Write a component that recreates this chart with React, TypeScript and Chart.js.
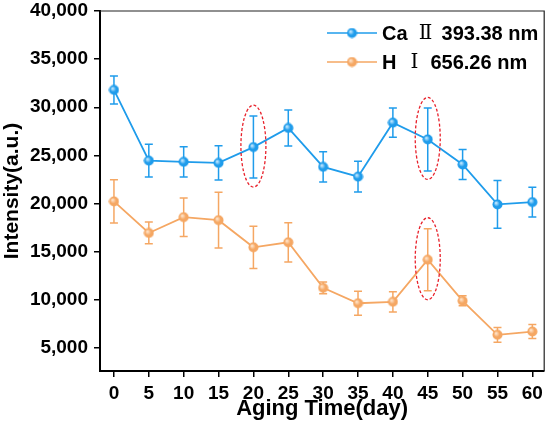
import { useEffect, useRef } from "react";
import Chart from "chart.js/auto";

// Aging time (days) and the two emission line intensities
const DAYS = [0, 5, 10, 15, 20, 25, 30, 35, 40, 45, 50, 55, 60];
const CA_MEAN = [31800, 24450, 24330, 24220, 25860, 27850, 23810, 22790, 28400, 26660, 24050, 19910, 20150];
const CA_ERR = [1450, 1700, 1570, 1770, 3220, 1870, 1570, 1600, 1510, 3270, 1560, 2490, 1550];
const H_MEAN = [20220, 16940, 18580, 18270, 15450, 15970, 11240, 9640, 9790, 14160, 9890, 6360, 6700];
const H_ERR = [2250, 1130, 2000, 2900, 2200, 2040, 610, 1240, 1050, 3220, 520, 770, 730];

const X_TICKS = [0, 5, 10, 15, 20, 25, 30, 35, 40, 45, 50, 55, 60];
const Y_TICKS = [5000, 10000, 15000, 20000, 25000, 30000, 35000, 40000];

// points circled with the red dashed ellipse (indices into DAYS)
const CA_MARKED = [4, 9];
const H_MARKED = [9];

const BLUE = "#1f9ceb";
const ORANGE = "#f5a763";
const FONT = "'Liberation Sans', Arial, sans-serif";
const ROMAN_FONT = "'DejaVu Serif', 'Liberation Serif', 'Noto Sans CJK SC', serif";

// little shaded ball used as marker
function ball(color: string, light: string) {
  const c = document.createElement("canvas");
  c.width = 11;
  c.height = 11;
  const ctx = c.getContext("2d")!;
  const g = ctx.createRadialGradient(4, 4, 0.5, 5.5, 5.5, 5.5);
  g.addColorStop(0, light);
  g.addColorStop(0.5, color);
  g.addColorStop(1, color);
  ctx.fillStyle = g;
  ctx.beginPath();
  ctx.arc(5.5, 5.5, 5, 0, Math.PI * 2);
  ctx.fill();
  return c;
}

const errorBars = {
  id: "errorBars",
  beforeDatasetsDraw(chart: any) {
    const { ctx, scales } = chart;
    const sets = [
      { mean: CA_MEAN, err: CA_ERR, color: BLUE },
      { mean: H_MEAN, err: H_ERR, color: ORANGE },
    ];
    ctx.save();
    ctx.lineWidth = 1.5;
    sets.forEach((s) => {
      ctx.strokeStyle = s.color;
      DAYS.forEach((d, i) => {
        const x = scales.x.getPixelForValue(d);
        const y1 = scales.y.getPixelForValue(s.mean[i] + s.err[i]);
        const y2 = scales.y.getPixelForValue(s.mean[i] - s.err[i]);
        ctx.beginPath();
        ctx.moveTo(x, y1);
        ctx.lineTo(x, y2);
        ctx.moveTo(x - 4, y1);
        ctx.lineTo(x + 4, y1);
        ctx.moveTo(x - 4, y2);
        ctx.lineTo(x + 4, y2);
        ctx.stroke();
      });
    });
    ctx.restore();
  },
};

const marks = {
  id: "marks",
  afterDatasetsDraw(chart: any) {
    const { ctx, scales } = chart;
    ctx.save();
    ctx.strokeStyle = "#e8212b";
    ctx.lineWidth = 1.3;
    ctx.setLineDash([3, 2]);
    const draw = (mean: number[], idx: number[]) =>
      idx.forEach((i) => {
        const x = scales.x.getPixelForValue(DAYS[i]);
        const y = scales.y.getPixelForValue(mean[i]);
        ctx.beginPath();
        ctx.ellipse(x, y - 1, 12.5, 41, 0, 0, Math.PI * 2);
        ctx.stroke();
      });
    draw(CA_MEAN, CA_MARKED);
    draw(H_MEAN, H_MARKED);
    ctx.restore();
  },
};

// frame on top/right + legend inside the plot
const frameAndLegend = {
  id: "frameAndLegend",
  afterDraw(chart: any) {
    const { ctx, chartArea } = chart;
    ctx.save();
    ctx.strokeStyle = "#222";
    ctx.lineWidth = 1.2;
    ctx.beginPath();
    ctx.moveTo(chartArea.left, chartArea.top);
    ctx.lineTo(chartArea.right, chartArea.top);
    ctx.lineTo(chartArea.right, chartArea.bottom);
    ctx.stroke();

    const rowY = [33, 62];
    chart.data.datasets.forEach((ds: any, i: number) => {
      const y = rowY[i];
      ctx.strokeStyle = ds.borderColor;
      ctx.lineWidth = 1.6;
      ctx.beginPath();
      ctx.moveTo(327, y);
      ctx.lineTo(377, y);
      ctx.stroke();
      ctx.drawImage(ds.pointStyle, 352 - 5.5, y - 5.5);

      // "Ca Ⅱ 393.38 nm" -> element, roman numeral (serif), rest
      const [elem, roman, ...rest] = String(ds.label).split(" ");
      ctx.fillStyle = "#000";
      ctx.textBaseline = "middle";
      ctx.textAlign = "left";
      ctx.font = `bold 20px ${FONT}`;
      ctx.fillText(elem, 382, y + 1);
      const elemEnd = 382 + ctx.measureText(elem).width;
      const romanX = elemEnd + 18;
      ctx.textAlign = "center";
      ctx.font = `20px ${ROMAN_FONT}`;
      ctx.fillText(roman, romanX, y + 1);
      ctx.textAlign = "left";
      ctx.font = `bold 20px ${FONT}`;
      ctx.fillText(rest.join(" "), romanX + 16, y + 1);
    });
    ctx.restore();
  },
};

export default function App() {
  const ref = useRef<HTMLCanvasElement>(null);

  useEffect(() => {
    document.body.style.margin = "0";
    if (!ref.current) return;

    const chart = new Chart(ref.current, {
      type: "line",
      data: {
        datasets: [
          {
            label: "Ca Ⅱ 393.38 nm",
            data: DAYS.map((d, i) => ({ x: d, y: CA_MEAN[i] })),
            borderColor: BLUE,
            borderWidth: 1.8,
            pointStyle: ball(BLUE, "#bfe6ff"),
          },
          {
            label: "H Ⅰ 656.26 nm",
            data: DAYS.map((d, i) => ({ x: d, y: H_MEAN[i] })),
            borderColor: ORANGE,
            borderWidth: 1.8,
            pointStyle: ball(ORANGE, "#ffe3c8"),
          },
        ],
      },
      options: {
        responsive: false,
        animation: false,
        layout: { padding: { top: 11, right: 5, left: 0, bottom: 0 } },
        plugins: {
          legend: { display: false },
          tooltip: { enabled: false },
        },
        scales: {
          x: {
            type: "linear",
            min: -2,
            max: 61.7,
            afterFit: (s: any) => {
              s.height = 58;
              s.paddingLeft = 0;
              s.paddingRight = 0;
            },
            afterBuildTicks: (s: any) => { s.ticks = X_TICKS.map((v) => ({ value: v })); },
            grid: { drawOnChartArea: false, tickLength: 6, color: "#000", lineWidth: 1.5 },
            border: { color: "#000", width: 2 },
            ticks: { color: "#000", padding: 5, font: { family: FONT, size: 19, weight: "bold" } },
            title: {
              display: true,
              text: "Aging Time(day)",
              color: "#000",
              padding: { top: 0, bottom: 7 },
              font: { family: FONT, size: 22, weight: "bold" },
            },
          },
          y: {
            min: 2600,
            max: 40000,
            afterFit: (s: any) => {
              s.width = 100;
              s.paddingTop = 0;
              s.paddingBottom = 0;
            },
            afterBuildTicks: (s: any) => { s.ticks = Y_TICKS.map((v) => ({ value: v })); },
            grid: { drawOnChartArea: false, tickLength: 6, color: "#000", lineWidth: 1.5 },
            border: { color: "#000", width: 2 },
            ticks: {
              color: "#000",
              padding: 6,
              font: { family: FONT, size: 19, weight: "bold" },
              callback: (v: any) => Number(v).toLocaleString("en-US"),
            },
            title: {
              display: true,
              text: "Intensity(a.u.)",
              color: "#000",
              padding: { top: 0, bottom: 0 },
              font: { family: FONT, size: 21, weight: "bold" },
            },
          },
        },
      },
      plugins: [errorBars, marks, frameAndLegend],
    });

    return () => chart.destroy();
  }, []);

  return (
    <div style={{ width: 550, height: 429, background: "#fff" }}>
      <canvas ref={ref} width={550} height={429} />
    </div>
  );
}
